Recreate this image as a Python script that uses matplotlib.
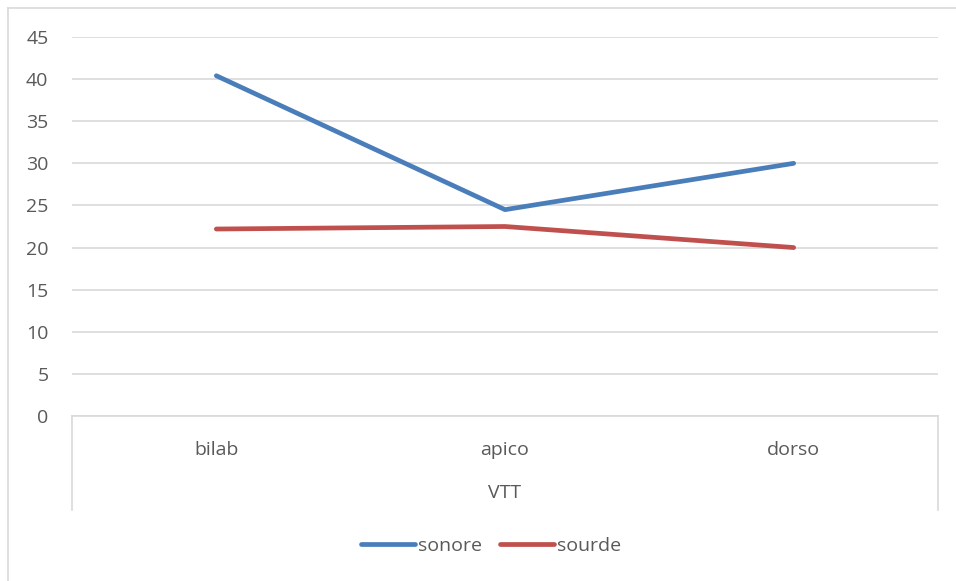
import matplotlib
matplotlib.use("Agg")
import matplotlib.pyplot as plt
from matplotlib.lines import Line2D

categories = ["bilab", "apico", "dorso"]
group_label = "VTT"
series_names = ["sonore", "sourde"]
sonore = [40.4, 24.5, 30.0]
sourde = [22.2, 22.5, 20.0]
yticks = [0, 5, 10, 15, 20, 25, 30, 35, 40, 45]

W, H = 956, 581
plt.rcParams['font.family'] = ['Open Sans', 'DejaVu Sans']
text_color = "#595959"
grid_color = "#D9D9D9"
colors = ["#4A7EBB", "#C0504D"]
FS = 14

fig = plt.figure(figsize=(W / 100, H / 100), dpi=100)
fig.patch.set_facecolor("white")

def fx(px):
    return px / W

def fy(py):
    return 1 - py / H

ax_left, ax_right, ax_top, ax_bottom = 72, 938, 37, 416
ax = fig.add_axes([fx(ax_left), fy(ax_bottom), fx(ax_right - ax_left), (ax_bottom - ax_top) / H])
x = list(range(len(categories)))
for vals, name, c in zip([sonore, sourde], series_names, colors):
    ax.plot(x, vals, color=c, lw=3.4, solid_capstyle="round", label=name, zorder=3)

ax.set_xlim(-0.5, len(categories) - 0.5)
ax.set_ylim(0, 45)
ax.set_yticks(yticks)
ax.set_yticklabels([str(t) for t in yticks], fontsize=FS, color=text_color)
ax.yaxis.grid(True, color=grid_color, lw=1.2)
ax.set_axisbelow(True)
for s in ["top", "right", "left"]:
    ax.spines[s].set_visible(False)
ax.spines["bottom"].set_color(grid_color)
ax.spines["bottom"].set_linewidth(1.2)
ax.tick_params(axis="y", length=0, pad=17)
ax.set_xticks(x)
ax.set_xticklabels(categories, fontsize=FS, color=text_color)
ax.tick_params(axis="x", length=0, pad=18)

# multi-level axis box verticals
ext = (510 - ax_bottom) / (ax_bottom - ax_top)
for xa in [0, 1]:
    ax.add_line(Line2D([xa, xa], [0, -ext], transform=ax.transAxes, color=grid_color,
                       lw=1.2, clip_on=False))
fig.text(fx((ax_left + ax_right) / 2), fy(493), group_label, ha="center", va="center",
         fontsize=FS, color=text_color)

# chart border (top and left visible)
fig.add_artist(Line2D([fx(8), 1], [fy(8), fy(8)], color=grid_color, lw=1.2))
fig.add_artist(Line2D([fx(8), fx(8)], [fy(8), 0], color=grid_color, lw=1.2))

handles, labels = ax.get_legend_handles_labels()
leg = fig.legend(handles, labels, loc="center", bbox_to_anchor=(fx(491), fy(546)), ncol=2,
                 frameon=False, fontsize=FS, handlelength=2.8, handletextpad=0.15,
                 columnspacing=0.9, labelcolor=text_color)

fig.savefig("out.png", dpi=100, facecolor="white")
